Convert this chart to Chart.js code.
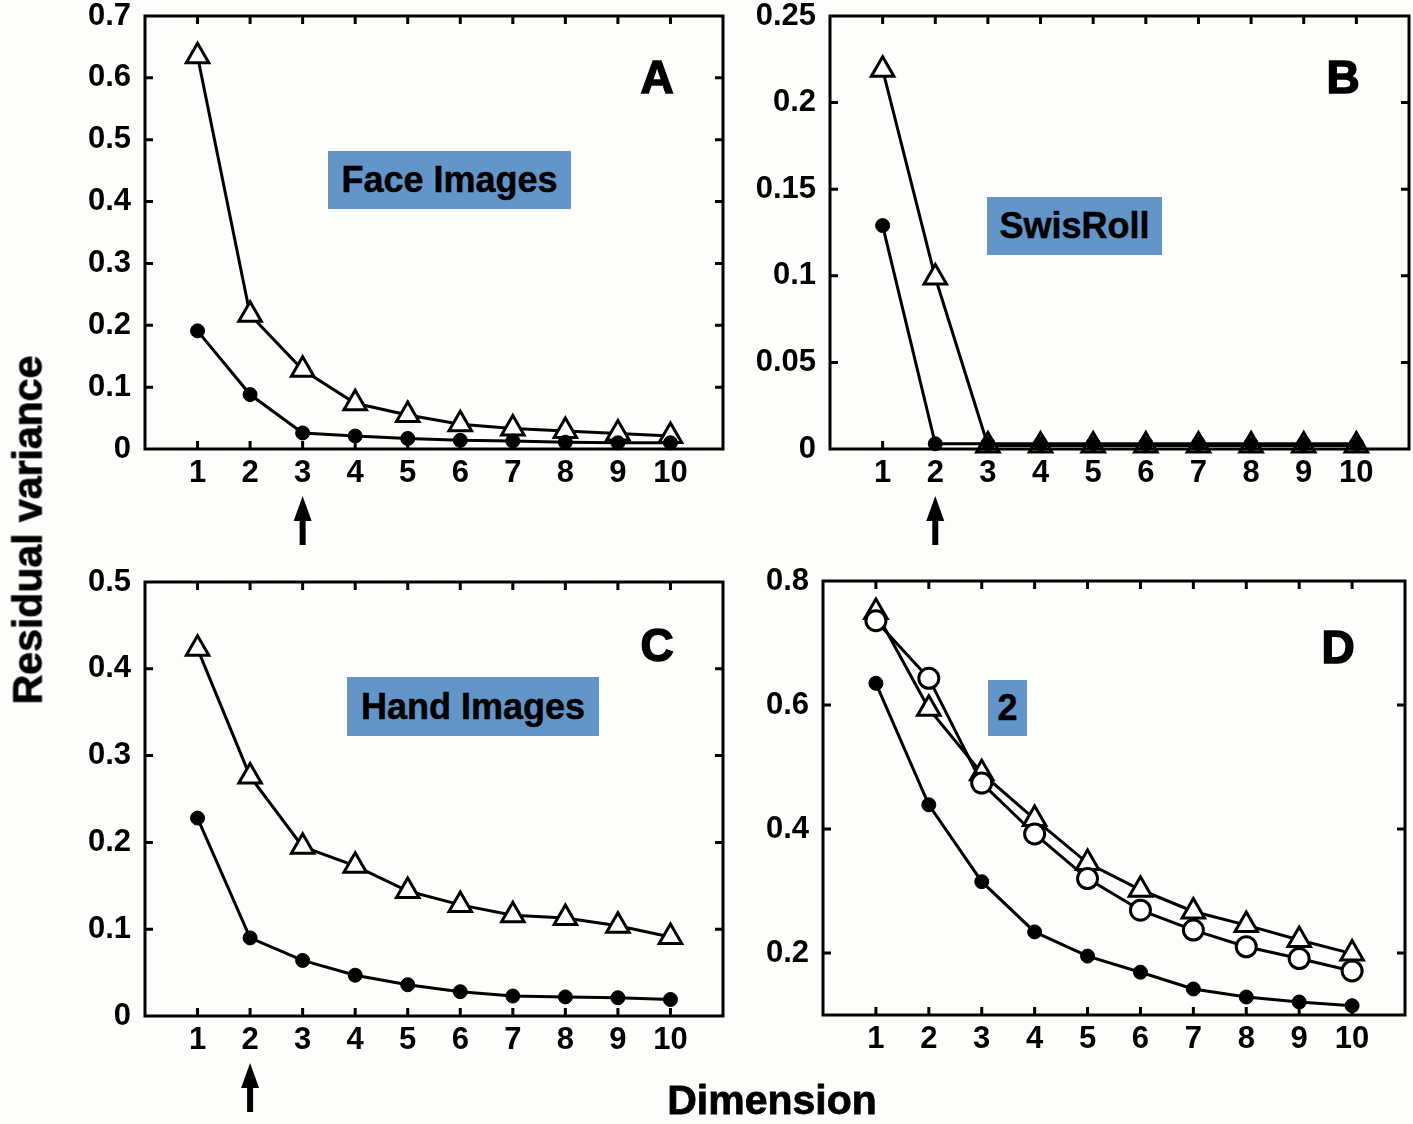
<!DOCTYPE html>
<html lang="en">
<head>
<meta charset="UTF-8">
<title>Residual variance vs Dimension</title>
<script src="https://cdn.jsdelivr.net/npm/chart.js"></script>
<style>
  body { margin: 0; background: #fdfdfb; }
  #page { position: relative; width: 1413px; height: 1124px; overflow: hidden; }
  canvas { position: absolute; }
  .tag {
    position: absolute; background: #6395c9; color: #000;
    font: bold 36px "Liberation Sans", Arial, sans-serif;
    -webkit-text-stroke: 0.5px #000;
    display: flex; align-items: center; justify-content: center;
  }
  .letter { position: absolute; font: bold 46px "Liberation Sans", Arial, sans-serif; -webkit-text-stroke: 1.5px #000; transform: translate(-50%, -50%); }
  .axis-title { position: absolute; font: bold 41px "Liberation Sans", Arial, sans-serif; -webkit-text-stroke: 0.8px #000; white-space: nowrap; transform: translate(-50%, -50%); }
</style>
</head>
<body>
<div id="page">
  <canvas id="chartA"></canvas>
  <canvas id="chartB"></canvas>
  <canvas id="chartC"></canvas>
  <canvas id="chartD"></canvas>

  <div class="tag" style="left:328px; top:151px; width:243px; height:58px;">Face Images</div>
  <div class="tag" style="left:987px; top:197px; width:175px; height:58px;">SwisRoll</div>
  <div class="tag" style="left:347px; top:677px; width:252px; height:59px;">Hand Images</div>
  <div class="tag" style="left:988px; top:680px; width:39px; height:56px;">2</div>

  <div class="letter" style="left:657px; top:77px;">A</div>
  <div class="letter" style="left:1343px; top:77px;">B</div>
  <div class="letter" style="left:657px; top:645px;">C</div>
  <div class="letter" style="left:1338px; top:647px;">D</div>

  <div class="axis-title" style="left:28px; top:530px; transform: translate(-50%, -50%) rotate(-90deg);">Residual variance</div>
  <div class="axis-title" style="left:772px; top:1100px;">Dimension</div>
</div>

<script>
// x positions (dimension) and tick labels
const dims = [1, 2, 3, 4, 5, 6, 7, 8, 9, 10];
const xTicks = [1, 2, 3, 4, 5, 6, 7, 8, 9, 10];

// A - face images
const faceTri = [0.635, 0.217, 0.128, 0.074, 0.055, 0.040, 0.033, 0.029, 0.025, 0.021];
const faceDot = [0.191, 0.088, 0.026, 0.021, 0.017, 0.014, 0.013, 0.011, 0.010, 0.010];
const yTicksA = [0, 0.1, 0.2, 0.3, 0.4, 0.5, 0.6, 0.7];

// B - swiss roll
const swissTri = [0.219, 0.099, 0.002, 0.002, 0.002, 0.002, 0.002, 0.002, 0.002, 0.002];
const swissDot = [0.129, 0.003, 0.003, 0.003, 0.003, 0.003, 0.003, 0.003, 0.003, 0.003];
const yTicksB = [0, 0.05, 0.1, 0.15, 0.2, 0.25];

// C - hand images
const handTri = [0.423, 0.276, 0.195, 0.173, 0.144, 0.128, 0.116, 0.113, 0.104, 0.091];
const handDot = [0.228, 0.090, 0.064, 0.047, 0.036, 0.028, 0.023, 0.022, 0.021, 0.019];
const yTicksC = [0, 0.1, 0.2, 0.3, 0.4, 0.5];

// D - "2"
const twoTri  = [0.750, 0.594, 0.490, 0.416, 0.345, 0.302, 0.267, 0.245, 0.221, 0.199];
const twoCirc = [0.736, 0.643, 0.474, 0.392, 0.320, 0.269, 0.237, 0.210, 0.191, 0.171];
const twoDot  = [0.635, 0.439, 0.315, 0.234, 0.195, 0.169, 0.142, 0.129, 0.121, 0.115];
const yTicksD = [0.2, 0.4, 0.6, 0.8];

// arrows under the x axis (intrinsic dimension)
const arrowA = 3, arrowB = 2, arrowC = 2;

const tickFont = { family: '"Liberation Sans", Arial, sans-serif', size: 31, weight: 'bold' };

function fmt(v) { return String(+v.toFixed(2)); }

// box around the plot area with inward tick marks on all 4 sides
const framePlugin = {
  id: 'frame',
  afterDraw(chart) {
    const { ctx, chartArea: a, scales } = chart;
    ctx.save();
    ctx.strokeStyle = '#000';
    ctx.lineWidth = 3;
    ctx.strokeRect(a.left, a.top, a.right - a.left, a.bottom - a.top);
    ctx.lineWidth = 3;
    const len = 8;
    ctx.beginPath();
    scales.x.ticks.forEach(t => {
      const x = scales.x.getPixelForValue(t.value);
      ctx.moveTo(x, a.bottom); ctx.lineTo(x, a.bottom - len);
      ctx.moveTo(x, a.top); ctx.lineTo(x, a.top + len);
    });
    scales.y.ticks.forEach(t => {
      const y = scales.y.getPixelForValue(t.value);
      if (Math.abs(y - a.top) < 2 || Math.abs(y - a.bottom) < 2) return;
      ctx.moveTo(a.left, y); ctx.lineTo(a.left + len, y);
      ctx.moveTo(a.right, y); ctx.lineTo(a.right - len, y);
    });
    ctx.stroke();
    ctx.restore();
  }
};

const arrowPlugin = {
  id: 'arrow',
  afterDraw(chart, args, opts) {
    if (opts.at == null) return;
    const { ctx, chartArea: a } = chart;
    const x = chart.scales.x.getPixelForValue(opts.at);
    const top = a.bottom + 47;
    ctx.save();
    ctx.fillStyle = '#000';
    ctx.beginPath();
    ctx.moveTo(x, top);
    ctx.lineTo(x + 9, top + 25);
    ctx.lineTo(x - 9, top + 25);
    ctx.closePath();
    ctx.fill();
    ctx.fillRect(x - 3, top + 22, 6, 27);
    ctx.restore();
  }
};

function series(vals, style) {
  const base = {
    data: dims.map((d, i) => ({ x: d, y: vals[i] })),
    borderColor: '#000', borderWidth: 3, tension: 0, clip: false,
    pointBorderColor: '#000', pointBorderWidth: 3
  };
  if (style === 'tri') Object.assign(base, { pointStyle: 'triangle', pointRadius: 13, pointBackgroundColor: '#fff' });
  if (style === 'circ') Object.assign(base, { pointStyle: 'circle', pointRadius: 10, pointBackgroundColor: '#fff' });
  if (style === 'dot') Object.assign(base, { pointStyle: 'circle', pointRadius: 7, pointBorderWidth: 1, pointBackgroundColor: '#000' });
  return base;
}

function panel(id, box, area, yMin, yMax, yTicks, datasets, arrowAt) {
  const canvas = document.getElementById(id);
  canvas.style.left = box.x + 'px';
  canvas.style.top = box.y + 'px';
  canvas.width = box.w;
  canvas.height = box.h;
  return new Chart(canvas, {
    type: 'line',
    data: { datasets },
    options: {
      responsive: false,
      animation: false,
      devicePixelRatio: 1,
      layout: { padding: { left: 0, bottom: 0, top: area.top - box.y, right: box.x + box.w - area.right } },
      plugins: { legend: { display: false }, tooltip: { enabled: false }, arrow: { at: arrowAt } },
      scales: {
        x: {
          type: 'linear', min: 0, max: 11,
          afterBuildTicks: s => { s.ticks = xTicks.map(v => ({ value: v })); },
          afterFit: s => { s.height = box.y + box.h - area.bottom; s.paddingLeft = 0; s.paddingRight = 0; },
          grid: { display: false, drawTicks: false },
          border: { display: false },
          ticks: { font: tickFont, color: '#000', padding: 6, maxRotation: 0, autoSkip: false }
        },
        y: {
          type: 'linear', min: yMin, max: yMax,
          afterBuildTicks: s => { s.ticks = yTicks.map(v => ({ value: v })); },
          afterFit: s => { s.width = area.left - box.x; s.paddingTop = 0; s.paddingBottom = 0; },
          grid: { display: false, drawTicks: false },
          border: { display: false },
          ticks: { font: tickFont, color: '#000', padding: 14, autoSkip: false, callback: v => fmt(v) }
        }
      }
    },
    plugins: [framePlugin, arrowPlugin]
  });
}

panel('chartA', { x: 0, y: 0, w: 745, h: 560 }, { left: 145, top: 15, right: 723, bottom: 449 },
  0, 0.7, yTicksA, [series(faceDot, 'dot'), series(faceTri, 'tri')], arrowA);

panel('chartB', { x: 745, y: 0, w: 700, h: 560 }, { left: 830, top: 15, right: 1409, bottom: 449 },
  0, 0.25, yTicksB, [series(swissDot, 'dot'), series(swissTri, 'tri')], arrowB);

panel('chartC', { x: 0, y: 560, w: 745, h: 564 }, { left: 145, top: 582, right: 723, bottom: 1016 },
  0, 0.5, yTicksC, [series(handDot, 'dot'), series(handTri, 'tri')], arrowC);

panel('chartD', { x: 745, y: 560, w: 700, h: 564 }, { left: 823, top: 581, right: 1405, bottom: 1015 },
  0.1, 0.8, yTicksD, [series(twoDot, 'dot'), series(twoCirc, 'circ'), series(twoTri, 'tri')], null);
</script>
</body>
</html>
